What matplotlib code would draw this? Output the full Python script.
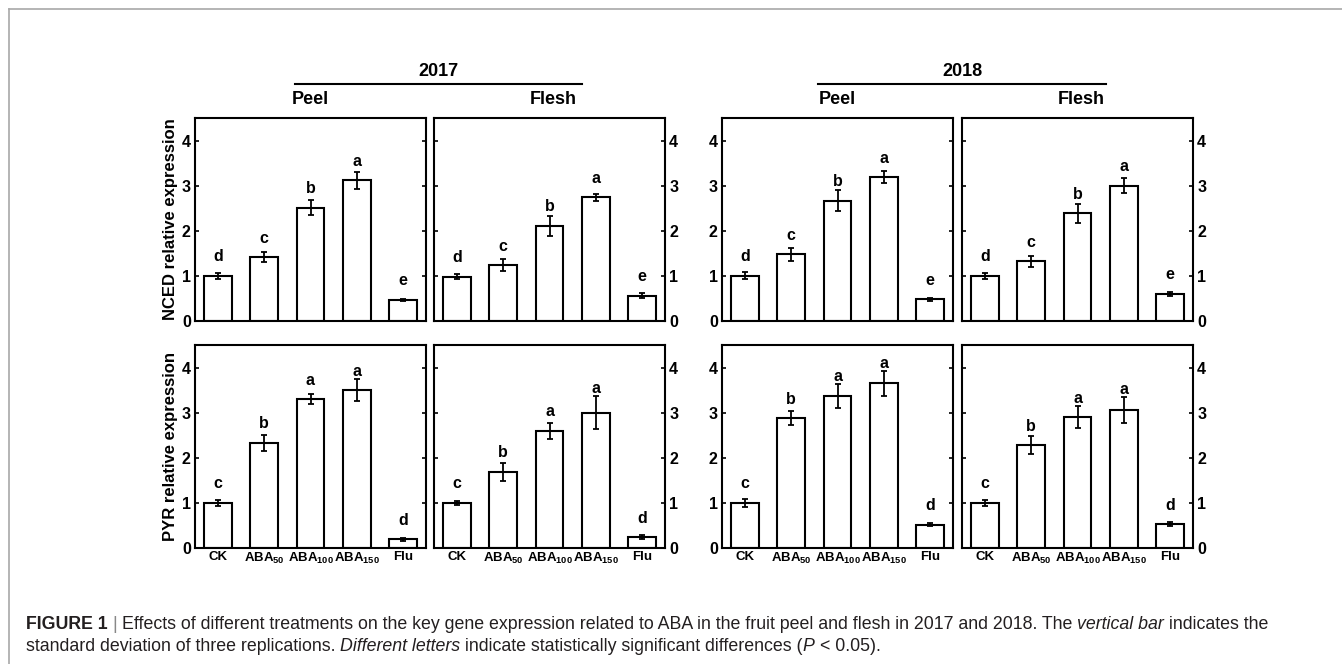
import numpy as np
import matplotlib.pyplot as plt
from matplotlib.lines import Line2D

plt.rcParams['font.family'] = ['Liberation Sans', 'DejaVu Sans']
plt.rcParams['mathtext.fontset'] = 'custom'
plt.rcParams['mathtext.rm'] = 'Liberation Sans:bold'
plt.rcParams['mathtext.bf'] = 'Liberation Sans:bold'

# data
treatments = ['CK', 'ABA50', 'ABA100', 'ABA150', 'Flu']
tick_labels = ['CK', r'ABA$_{50}$', r'ABA$_{100}$', r'ABA$_{150}$', 'Flu']

nced_peel_2017 = [1.00, 1.42, 2.51, 3.12, 0.47]
nced_peel_2017_sd = [0.07, 0.12, 0.17, 0.19, 0.02]
nced_flesh_2017 = [0.98, 1.24, 2.11, 2.74, 0.56]
nced_flesh_2017_sd = [0.06, 0.13, 0.22, 0.07, 0.05]
nced_peel_2018 = [1.00, 1.48, 2.67, 3.19, 0.48]
nced_peel_2018_sd = [0.08, 0.14, 0.23, 0.14, 0.04]
nced_flesh_2018 = [1.00, 1.32, 2.39, 3.00, 0.60]
nced_flesh_2018_sd = [0.06, 0.13, 0.21, 0.16, 0.04]

pyr_peel_2017 = [1.00, 2.33, 3.30, 3.50, 0.19]
pyr_peel_2017_sd = [0.07, 0.18, 0.11, 0.25, 0.03]
pyr_flesh_2017 = [1.00, 1.69, 2.60, 3.00, 0.24]
pyr_flesh_2017_sd = [0.04, 0.20, 0.18, 0.36, 0.04]
pyr_peel_2018 = [1.00, 2.88, 3.37, 3.65, 0.52]
pyr_peel_2018_sd = [0.09, 0.15, 0.26, 0.27, 0.03]
pyr_flesh_2018 = [1.00, 2.28, 2.90, 3.05, 0.53]
pyr_flesh_2018_sd = [0.07, 0.20, 0.24, 0.29, 0.04]

nced_letters = ['d', 'c', 'b', 'a', 'e']
pyr_letters = ['c', 'b', 'a', 'a', 'd']

W, H = 1342, 664
fig = plt.figure(figsize=(W / 100, H / 100), dpi=100)

# gray frame (top and left edges)
fig.add_artist(Line2D([9 / W, 9 / W], [0, 1 - 9 / H], color='#a8a8a8', lw=1.2))
fig.add_artist(Line2D([9 / W, 1], [1 - 9 / H, 1 - 9 / H], color='#a8a8a8', lw=1.2))

col_left = [195, 434, 722, 962]
col_w = 231
row_top = [118, 345]
row_h = 203

rows = [
    [(nced_peel_2017, nced_peel_2017_sd), (nced_flesh_2017, nced_flesh_2017_sd),
     (nced_peel_2018, nced_peel_2018_sd), (nced_flesh_2018, nced_flesh_2018_sd)],
    [(pyr_peel_2017, pyr_peel_2017_sd), (pyr_flesh_2017, pyr_flesh_2017_sd),
     (pyr_peel_2018, pyr_peel_2018_sd), (pyr_flesh_2018, pyr_flesh_2018_sd)],
]
row_letters = [nced_letters, pyr_letters]
row_ylabels = ['NCED relative expression', 'PYR relative expression']

x = np.arange(len(treatments))
for r in range(2):
    for c in range(4):
        vals, sds = rows[r][c]
        ax = fig.add_axes([col_left[c] / W, 1 - (row_top[r] + row_h) / H, col_w / W, row_h / H])
        ax.bar(x, vals, width=0.6, color='white', edgecolor='black', linewidth=1.5, zorder=2)
        ax.errorbar(x, vals, yerr=sds, fmt='none', ecolor='black', elinewidth=1.3,
                    capsize=2.3, capthick=1.3, zorder=3)
        for xi, v, s, lt in zip(x, vals, sds, row_letters[r]):
            ax.text(xi, max(v + 0.32, v + s + 0.07), lt, ha='center', va='baseline',
                    fontsize=11.5, fontweight='bold')
        ax.set_xlim(-0.5, 4.5)
        ax.set_ylim(0, 4.5)
        ax.set_yticks([0, 1, 2, 3, 4])
        for sp in ax.spines.values():
            sp.set_linewidth(1.5)
        left_lab = c in (0, 2)
        ax.tick_params(axis='y', direction='in', length=3, width=1.2, left=True, right=True,
                       labelleft=left_lab, labelright=not left_lab, labelsize=11.5, pad=3)
        for t in ax.get_yticklabels():
            t.set_fontweight('bold')
        ax.tick_params(axis='x', length=0, pad=2)
        if r == 1:
            ax.set_xticks(x)
            ax.set_xticklabels(tick_labels, fontsize=9.5, fontweight='bold')
        else:
            ax.set_xticks([])
        if c == 0:
            ax.set_ylabel(row_ylabels[r], fontsize=12, fontweight='bold', labelpad=3)

# headers
for c, name in enumerate(['Peel', 'Flesh', 'Peel', 'Flesh']):
    fig.text((col_left[c] + col_w / 2 + (4 if name == 'Flesh' else 0)) / W, 1 - 99 / H, name,
             ha='center', va='center', fontsize=13, fontweight='bold')
for year, x0, x1 in [('2017', 295, 582), ('2018', 818, 1106)]:
    fig.add_artist(Line2D([x0 / W, x1 / W], [1 - 84 / H, 1 - 84 / H], color='black', lw=1.5))
    fig.text((x0 + x1) / 2 / W, 1 - 71 / H, year, ha='center', va='center',
             fontsize=13, fontweight='bold')

# caption with mixed styles
cap_color = '#231f20'
cap_size = 12.8
renderer = fig.canvas.get_renderer()


def text_width(s, **kw):
    t = fig.text(0, 0, s, fontsize=cap_size, **kw)
    w = t.get_window_extent(renderer=renderer).width
    t.remove()
    return w


space_w = text_width('a a') - text_width('aa')


def put_line(pieces, x_px, y_px):
    for s, sp_before, kw in pieces:
        if sp_before:
            x_px += space_w
        t = fig.text(x_px / W, 1 - y_px / H, s, fontsize=cap_size, color=cap_color,
                     ha='left', va='baseline', **kw)
        x_px += t.get_window_extent(renderer=renderer).width


line1 = [
    ('FIGURE 1', False, {'fontweight': 'bold'}),
    ('|', True, {'color': '#888888'}),
    ('Effects of different treatments on the key gene expression related to ABA in the fruit '
     'peel and flesh in 2017 and 2018. The', True, {}),
    ('vertical bar', True, {'fontstyle': 'italic'}),
    ('indicates the', True, {}),
]
line2 = [
    ('standard deviation of three replications.', False, {}),
    ('Different letters', True, {'fontstyle': 'italic'}),
    ('indicate statistically significant differences (', True, {}),
    ('P', False, {'fontstyle': 'italic'}),
    ('< 0.05).', True, {}),
]


def put_line_c(pieces, x_px, y_px):
    for s, sp_before, kw in pieces:
        if sp_before:
            x_px += space_w
        col = kw.pop('color', cap_color)
        t = fig.text(x_px / W, 1 - y_px / H, s, fontsize=cap_size, color=col,
                     ha='left', va='baseline', **kw)
        x_px += t.get_window_extent(renderer=renderer).width


put_line_c(line1, 26, 629)
put_line_c(line2, 26, 651)

fig.savefig('out.png', dpi=100)
